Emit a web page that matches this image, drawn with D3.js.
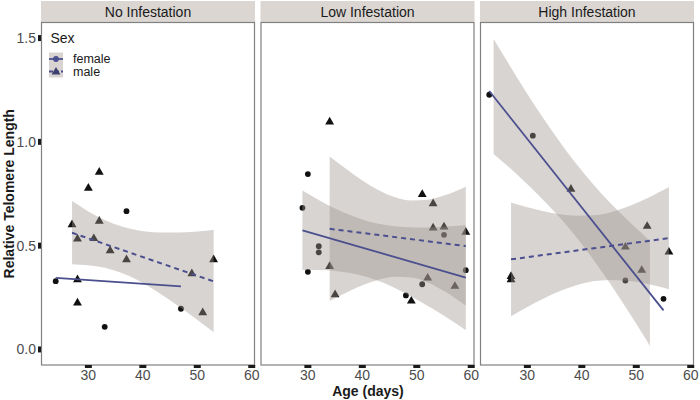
<!DOCTYPE html>
<html>
<head>
<meta charset="utf-8">
<script src="https://cdn.jsdelivr.net/npm/d3@7"></script>
<style>
  html, body { margin: 0; padding: 0; background: #fff; }
  svg { display: block; font-family: "Liberation Sans", Arial, sans-serif; }
</style>
</head>
<body>
<svg id="chart" width="700" height="400"></svg>
<script>
// ---------------- data ----------------
const panels = ["No Infestation", "Low Infestation", "High Infestation"];
const xTicks = [30, 40, 50, 60];
const yTicks = [0.0, 0.5, 1.0, 1.5];
const sexes = ["female", "male"];

// raw points per panel
const femaleAge = [[24, 33, 37, 47], [29, 30, 30, 32, 32, 48, 51, 55, 59], [23, 31, 48, 55]];
const femaleRTL = [[0.329, 0.109, 0.666, 0.196],
                   [0.682, 0.845, 0.374, 0.497, 0.468, 0.260, 0.314, 0.552, 0.382],
                   [1.227, 1.030, 0.332, 0.244]];
const maleAge = [[27, 28, 28, 28, 30, 31, 32, 32, 34, 37, 49, 51, 53],
                 [34, 34, 35, 49, 51, 52, 53, 53, 55, 57, 59],
                 [27, 27, 38, 48, 51, 52, 56]];
const maleRTL = [[0.605, 0.536, 0.340, 0.228, 0.781, 0.538, 0.622, 0.858, 0.480, 0.436, 0.369, 0.181, 0.436],
                 [1.100, 0.404, 0.268, 0.237, 0.751, 0.348, 0.706, 0.589, 0.594, 0.308, 0.569],
                 [0.356, 0.340, 0.776, 0.497, 0.385, 0.597, 0.473]];

// fitted lines (end points)
const femaleFitAge = [[24, 47], [29, 59], [23, 55]];
const femaleFitRTL = [[0.345, 0.304], [0.574, 0.346], [1.245, 0.188]];
const maleFitAge = [[27, 53], [34, 59], [27, 56]];
const maleFitRTL = [[0.562, 0.328], [0.581, 0.498], [0.434, 0.536]];

// confidence bands
const femaleBandAge = [[],
  [29, 32, 35, 38, 41, 44, 47, 50, 53, 56, 59],
  [23.8, 27, 30, 33, 36, 39, 42, 45, 48, 51, 52.5]];
const femaleBandLo = [[],
  [0.383, 0.383, 0.378, 0.367, 0.348, 0.320, 0.283, 0.241, 0.195, 0.145, 0.093],
  [0.942, 0.869, 0.796, 0.718, 0.634, 0.540, 0.437, 0.325, 0.206, 0.081, 0.017]];
const femaleBandHi = [[],
  [0.766, 0.720, 0.679, 0.645, 0.618, 0.601, 0.591, 0.588, 0.589, 0.593, 0.598],
  [1.495, 1.357, 1.231, 1.111, 0.998, 0.893, 0.798, 0.712, 0.633, 0.560, 0.524]];
const maleBandAge = [
  [27, 30, 33, 36, 39, 42, 45, 48, 51, 53],
  [34, 37, 40, 43, 46, 49, 52, 55, 57, 59],
  [27, 30, 33, 36, 39, 42, 45, 48, 51, 54, 56]];
const maleBandLo = [
  [0.410, 0.405, 0.393, 0.369, 0.334, 0.289, 0.237, 0.181, 0.122, 0.083],
  [0.233, 0.273, 0.309, 0.336, 0.350, 0.346, 0.322, 0.281, 0.248, 0.211],
  [0.160, 0.205, 0.245, 0.281, 0.309, 0.328, 0.335, 0.332, 0.321, 0.304, 0.290]];
const maleBandHi = [
  [0.715, 0.665, 0.623, 0.593, 0.574, 0.565, 0.563, 0.565, 0.570, 0.577],
  [0.930, 0.870, 0.814, 0.767, 0.733, 0.717, 0.721, 0.741, 0.761, 0.784],
  [0.708, 0.685, 0.666, 0.651, 0.644, 0.646, 0.659, 0.684, 0.716, 0.755, 0.783]];

// ---------------- layout ----------------
const svg = d3.select("#chart");
const panelLeft = [41, 260.5, 480];
const panelW = 214;
const plotTop = 22.5, plotBottom = 365;
const lineColor = "#4b4f8e";
const bandFill = "#9e948e";
const bandOpacity = 0.4;
const stripFill = "#dbd6d2";
const textGrey = "#4d4d4d";

const x = d3.scaleLinear().domain([21.3, 60.6]).range([0, panelW]);
const y = d3.scaleLinear().domain([-0.075, 1.575]).range([plotBottom, plotTop]);

const area = d3.area().x(d => x(d[0])).y0(d => y(d[1])).y1(d => y(d[2])).curve(d3.curveMonotoneX);
const line = d3.line().x(d => x(d[0])).y(d => y(d[1]));
const triangle = d3.symbol().type(d3.symbolTriangle).size(34);

panels.forEach((name, i) => {
  const g = svg.append("g").attr("transform", `translate(${panelLeft[i]},0)`);

  // strip
  g.append("rect").attr("x", 0).attr("y", 1).attr("width", panelW).attr("height", plotTop - 1.5)
    .attr("fill", stripFill);
  g.append("text").attr("x", panelW / 2).attr("y", 16.5).attr("text-anchor", "middle")
    .attr("font-size", 14).attr("fill", "#1a1a1a").text(name);

  // points
  const pts = g.append("g");
  femaleAge[i].forEach((a, j) => {
    pts.append("circle").attr("cx", x(a)).attr("cy", y(femaleRTL[i][j])).attr("r", 2.9).attr("fill", "#111");
  });
  maleAge[i].forEach((a, j) => {
    pts.append("path").attr("d", triangle)
      .attr("transform", `translate(${x(a)},${y(maleRTL[i][j]) + 0.8})`).attr("fill", "#111");
  });

  // bands
  const bands = [
    [femaleBandAge[i], femaleBandLo[i], femaleBandHi[i]],
    [maleBandAge[i], maleBandLo[i], maleBandHi[i]]
  ];
  bands.forEach(([ages, lo, hi]) => {
    if (!ages.length) return;
    const data = ages.map((a, k) => [a, lo[k], hi[k]]);
    g.append("path").attr("d", area(data)).attr("fill", bandFill).attr("fill-opacity", bandOpacity);
  });

  // fitted lines
  g.append("path").attr("d", line(femaleFitAge[i].map((a, k) => [a, femaleFitRTL[i][k]])))
    .attr("fill", "none").attr("stroke", lineColor).attr("stroke-width", 1.8);
  g.append("path").attr("d", line(maleFitAge[i].map((a, k) => [a, maleFitRTL[i][k]])))
    .attr("fill", "none").attr("stroke", lineColor).attr("stroke-width", 2)
    .attr("stroke-dasharray", "5,4");

  // panel border
  g.append("rect").attr("x", 0.5).attr("y", plotTop).attr("width", panelW - 1).attr("height", plotBottom - plotTop)
    .attr("fill", "none").attr("stroke", "#808080").attr("stroke-width", 1.2);

  // x axis ticks and labels
  const xa = g.append("g");
  xTicks.forEach(t => {
    xa.append("line").attr("x1", x(t)).attr("x2", x(t)).attr("y1", plotBottom).attr("y2", plotBottom + 3)
      .attr("stroke", "#1a1a1a").attr("stroke-width", 7);
    xa.append("text").attr("x", x(t)).attr("y", plotBottom + 14.5).attr("text-anchor", "middle")
      .attr("font-size", 14).attr("fill", textGrey).text(d3.format("d")(t));
  });

  if (i === 0) {
    const ya = g.append("g");
    yTicks.forEach(t => {
      ya.append("line").attr("x1", -3).attr("x2", 0).attr("y1", y(t)).attr("y2", y(t))
        .attr("stroke", "#1a1a1a").attr("stroke-width", 6);
      ya.append("text").attr("x", -5).attr("y", y(t) + 5).attr("text-anchor", "end")
        .attr("font-size", 14).attr("fill", textGrey).text(d3.format(".1f")(t));
    });

    // legend
    const lg = g.append("g").attr("transform", "translate(8,0)");
    lg.append("text").attr("x", 1.5).attr("y", 43).attr("font-size", 14).attr("fill", "#1a1a1a").text("Sex");
    sexes.forEach((s, k) => {
      const cy = 59 + k * 12.5;
      lg.append("rect").attr("x", 0).attr("y", cy - 6.5).attr("width", 14).attr("height", 12.5)
        .attr("fill", "#d9d4d1");
      lg.append("line").attr("x1", 0).attr("x2", 14).attr("y1", cy).attr("y2", cy)
        .attr("stroke", lineColor).attr("stroke-width", 1.8)
        .attr("stroke-dasharray", k === 0 ? null : "4,2");
      if (k === 0) {
        lg.append("circle").attr("cx", 7).attr("cy", cy).attr("r", 2.9).attr("fill", lineColor);
      } else {
        lg.append("path").attr("d", triangle).attr("transform", `translate(7,${cy + 0.5})`).attr("fill", "#3d3f6e");
      }
      lg.append("text").attr("x", 24).attr("y", cy + 4.3).attr("font-size", 12.5).attr("fill", "#1a1a1a").text(s);
    });
  }
});

// axis titles
svg.append("text").attr("x", 368).attr("y", 396).attr("text-anchor", "middle")
  .attr("font-size", 14).attr("font-weight", "bold").attr("fill", "#1a1a1a").text("Age (days)");
svg.append("text").attr("transform", `translate(13.5,${(plotTop + plotBottom) / 2}) rotate(-90)`)
  .attr("text-anchor", "middle").attr("font-size", 14).attr("font-weight", "bold").attr("fill", "#1a1a1a")
  .text("Relative Telomere Length");
</script>
</body>
</html>
